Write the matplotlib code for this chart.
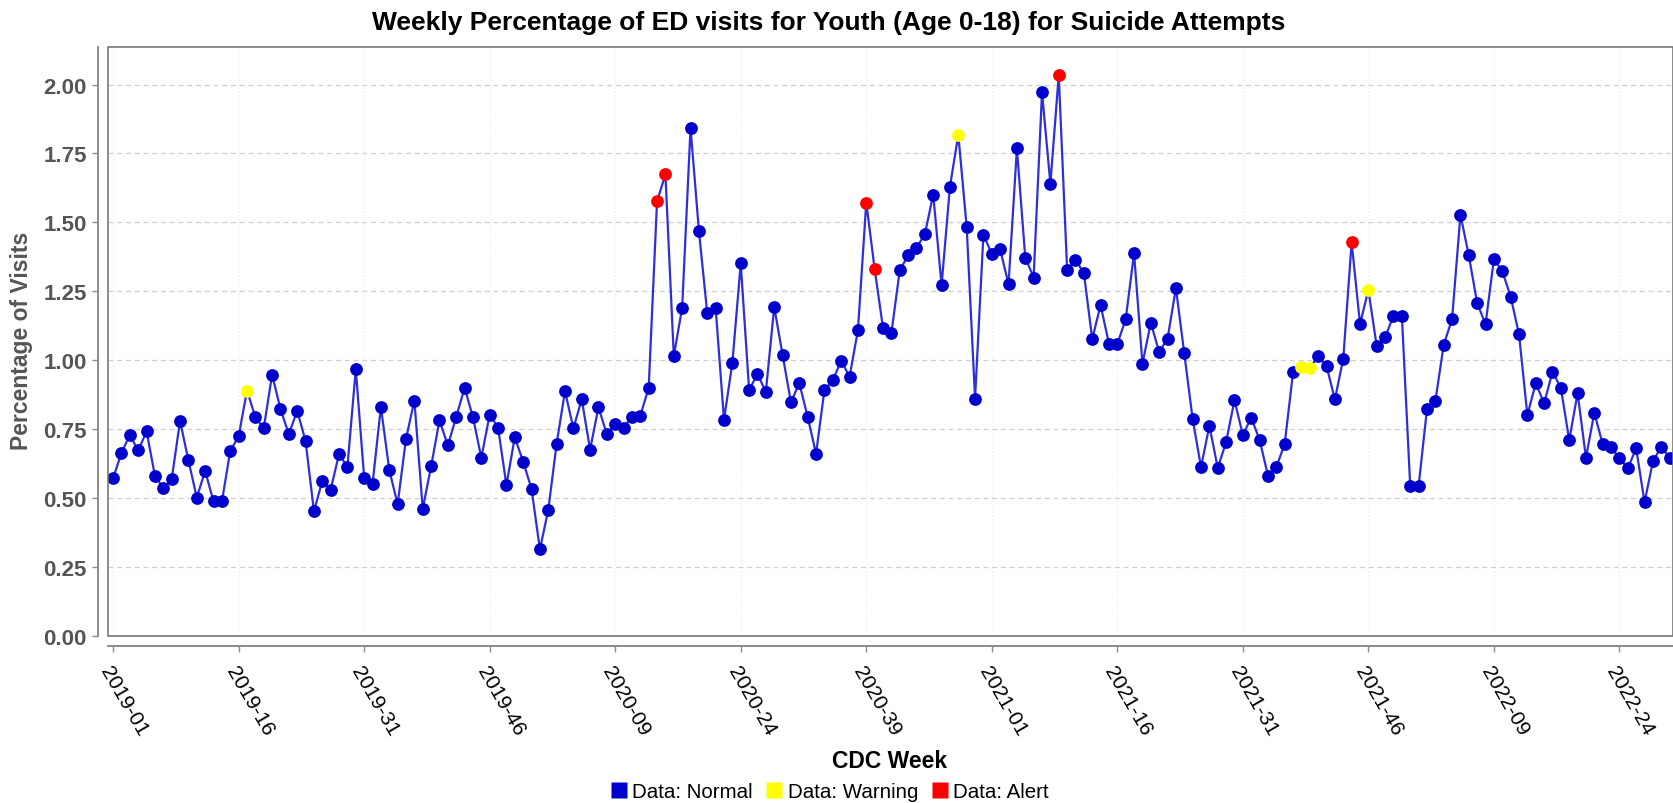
import matplotlib
matplotlib.use("Agg")
import matplotlib.pyplot as plt
from matplotlib.lines import Line2D
from matplotlib.patches import Rectangle

plt.rcParams["font.family"] = ["Liberation Sans", "DejaVu Sans"]

# CDC weeks: 2019-01 .. 2022-30
YEAR_WEEKS = [(2019, 52), (2020, 53), (2021, 52), (2022, 30)]
weeks = [f"{y}-{w:02d}" for y, n in YEAR_WEEKS for w in range(1, n + 1)]

pct = [
    0.572, 0.664, 0.729, 0.673, 0.742, 0.581, 0.536, 0.568, 0.780, 0.637,
    0.502, 0.599, 0.488, 0.488, 0.671, 0.724, 0.890, 0.794, 0.753, 0.948,
    0.823, 0.732, 0.817, 0.707, 0.452, 0.563, 0.531, 0.660, 0.613, 0.968,
    0.574, 0.551, 0.831, 0.602, 0.478, 0.715, 0.854, 0.461, 0.615, 0.782,
    0.691, 0.794, 0.900, 0.794, 0.646, 0.803, 0.756, 0.547, 0.721, 0.632,
    0.534, 0.314, 0.457, 0.697, 0.888, 0.753, 0.858, 0.676, 0.830, 0.731,
    0.770, 0.755, 0.796, 0.799, 0.900, 1.577, 1.674, 1.015, 1.190, 1.843,
    1.470, 1.170, 1.190, 0.784, 0.991, 1.351, 0.892, 0.950, 0.886, 1.193,
    1.019, 0.847, 0.917, 0.794, 0.661, 0.892, 0.927, 0.999, 0.940, 1.108,
    1.572, 1.331, 1.117, 1.098, 1.326, 1.380, 1.408, 1.457, 1.601, 1.272,
    1.630, 1.818, 1.483, 0.861, 1.456, 1.385, 1.402, 1.276, 1.768, 1.372,
    1.300, 1.972, 1.640, 2.034, 1.329, 1.364, 1.317, 1.077, 1.200, 1.060,
    1.059, 1.149, 1.388, 0.987, 1.136, 1.030, 1.078, 1.262, 1.026, 0.787,
    0.612, 0.763, 0.609, 0.704, 0.855, 0.729, 0.792, 0.711, 0.582, 0.612,
    0.697, 0.957, 0.977, 0.972, 1.015, 0.979, 0.858, 1.006, 1.428, 1.131,
    1.255, 1.050, 1.083, 1.162, 1.162, 0.543, 0.543, 0.823, 0.851, 1.056,
    1.149, 1.528, 1.380, 1.207, 1.131, 1.367, 1.323, 1.231, 1.094, 0.801,
    0.917, 0.844, 0.958, 0.900, 0.710, 0.881, 0.646, 0.810, 0.695, 0.684,
    0.645, 0.609, 0.680, 0.485, 0.633, 0.687, 0.647,
]

warning_weeks = ["2019-17", "2020-50", "2021-38", "2021-39", "2021-46"]
alert_weeks = ["2020-14", "2020-15", "2020-39", "2020-40", "2021-09", "2021-44"]

STATUS = {"Normal": "#0000CC", "Warning": "#FFFF00", "Alert": "#FF0000"}

def status_of(wk):
    if wk in alert_weeks:
        return "Alert"
    if wk in warning_weeks:
        return "Warning"
    return "Normal"

x = list(range(len(weeks)))
fig = plt.figure(figsize=(16.73, 8.04), dpi=100)
ax = fig.add_axes([0.0646, 0.2077, 0.9354, 0.7326])

# spines first: set_position resets the tick objects
for s in ("top", "right"):
    ax.spines[s].set_visible(False)
for s in ("left", "bottom"):
    ax.spines[s].set_position(("outward", 7.2))
    ax.spines[s].set_color("#8C8C8C")
    ax.spines[s].set_linewidth(1.4)
ax.add_patch(Rectangle((0, 0), 1, 1, transform=ax.transAxes, fill=False,
                       ec="#777777", lw=1.2, clip_on=False, zorder=5))

ax.plot(x, pct, color="#2E2EDB", lw=1.6, zorder=2)
for st, col in STATUS.items():
    idx = [i for i, wk in enumerate(weeks) if status_of(wk) == st]
    ax.plot([x[i] for i in idx], [pct[i] for i in idx], "o", ls="none",
            color=col, ms=9.2, mec="none", zorder=3)

ax.set_xlim(-0.6, 186.4)
ax.set_ylim(0, 2.136)
yt = [0, 0.25, 0.5, 0.75, 1.0, 1.25, 1.5, 1.75, 2.0]
ax.set_yticks(yt)
ax.set_yticklabels([f"{v:.2f}" for v in yt], fontsize=16,
                   fontweight="bold", color="#555555")
ax.set_xticks(x[::15])
ax.set_xticklabels(weeks[::15], rotation=-60, ha="left", va="top",
                   rotation_mode="anchor", fontsize=15, color="black")
ax.tick_params(axis="both", length=4, width=1, color="#8C8C8C")
ax.tick_params(axis="y", pad=4)
ax.tick_params(axis="x", pad=8)

ax.yaxis.grid(True, ls=(0, (4, 3)), color="#CFCFCF", lw=0.9)
ax.xaxis.grid(True, ls=(0, (1, 2)), color="#EBEBEB", lw=0.9)
ax.set_axisbelow(True)

fig.text(0.4955, 0.971, "Weekly Percentage of ED visits for Youth (Age 0-18) for Suicide Attempts",
         ha="center", va="center", fontsize=19, fontweight="bold")
fig.text(0.0127, 0.576, "Percentage of Visits", rotation=90, ha="center", va="center",
         fontsize=16.5, fontweight="bold", color="#555555")
fig.text(0.532, 0.053, "CDC Week", ha="center", va="center", fontsize=16.5, fontweight="bold")

handles = [Line2D([], [], marker="s", ls="none", color=c, ms=12, mec="none",
                  label=f"Data: {st}") for st, c in STATUS.items()]
fig.legend(handles=handles, loc="center", bbox_to_anchor=(0.4955, 0.0137), ncol=3,
           frameon=False, fontsize=14.8, handletextpad=0.2, columnspacing=0.6,
           handlelength=0.9, borderaxespad=0)

fig.savefig("out.png", dpi=100)
